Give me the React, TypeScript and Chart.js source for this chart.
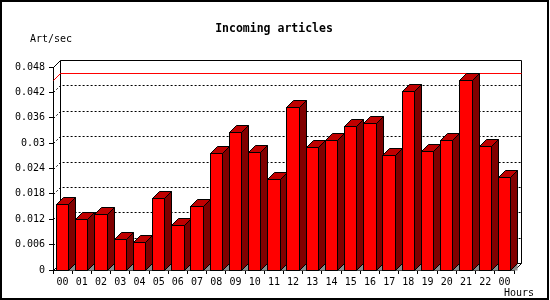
import React, { useEffect, useRef } from 'react';
import { Chart, registerables } from 'chart.js';

Chart.register(...registerables);

const title = 'Incoming articles';
const yUnit = 'Art/sec';
const xUnit = 'Hours';

const categories = [
  '00', '01', '02', '03', '04', '05', '06', '07', '08', '09', '10', '11',
  '12', '13', '14', '15', '16', '17', '18', '19', '20', '21', '22', '00',
];

const articlesPerSec = [
  0.0154, 0.0120, 0.0132, 0.0071, 0.0065, 0.0169, 0.0106, 0.0150,
  0.0276, 0.0325, 0.0278, 0.0214, 0.0385, 0.0289, 0.0307, 0.0340,
  0.0347, 0.0270, 0.0423, 0.0280, 0.0307, 0.0449, 0.0293, 0.0219,
];

const yMin = 0;
const yMax = 0.048;
const yStep = 0.006;

const DEPTH = 7;
const MONO = '"DejaVu Sans Mono", "Liberation Mono", monospace';

const threeDPlugin = {
  id: 'threeD',
  beforeDraw(chart: any) {
    const ctx = chart.ctx;
    ctx.save();
    ctx.fillStyle = '#ffffff';
    ctx.fillRect(0, 0, chart.width, chart.height);
    ctx.strokeStyle = '#000000';
    ctx.lineWidth = 2;
    ctx.strokeRect(1, 1, 547, 298);
    ctx.fillStyle = '#000000';
    ctx.font = `bold 11.5px ${MONO}`;
    ctx.textAlign = 'center';
    ctx.textBaseline = 'alphabetic';
    ctx.fillText(title, 274, 32);
    ctx.font = `10px ${MONO}`;
    ctx.textAlign = 'left';
    ctx.fillText(yUnit, 30, 42);
    ctx.fillText(xUnit, 504, 296);
    ctx.restore();
  },
  beforeDatasetsDraw(chart: any) {
    const ctx = chart.ctx;
    const { left, right, top, bottom } = chart.chartArea;
    const ys = chart.scales.y;
    const L = Math.round(left) + 0.5;
    const R = Math.round(right) + 0.5;
    const T = Math.round(top) + 0.5;
    const B = Math.round(bottom) + 0.5;
    ctx.save();
    ctx.lineWidth = 1;
    ctx.strokeStyle = '#000000';
    // dotted grid lines on the back wall and left wall
    ctx.setLineDash([2, 2]);
    for (const t of ys.ticks) {
      const v = t.value;
      if (v <= yMin + 1e-9 || v >= yMax - 1e-9) continue;
      const py = Math.round(ys.getPixelForValue(v)) + 0.5;
      ctx.beginPath();
      ctx.moveTo(L, py);
      ctx.lineTo(L + DEPTH, py - DEPTH);
      ctx.lineTo(R + DEPTH, py - DEPTH);
      ctx.stroke();
    }
    ctx.setLineDash([]);
    // back wall frame
    ctx.beginPath();
    ctx.moveTo(L, T);
    ctx.lineTo(L + DEPTH, T - DEPTH);
    ctx.lineTo(R + DEPTH, T - DEPTH);
    ctx.lineTo(R + DEPTH, B - DEPTH);
    ctx.lineTo(R, B);
    ctx.moveTo(L + DEPTH, T - DEPTH);
    ctx.lineTo(L + DEPTH, B - DEPTH);
    ctx.lineTo(R + DEPTH, B - DEPTH);
    ctx.moveTo(L, B);
    ctx.lineTo(L + DEPTH, B - DEPTH);
    ctx.stroke();
    // max line
    const maxV = Math.max(...articlesPerSec);
    const my = Math.round(ys.getPixelForValue(maxV)) + 0.5;
    ctx.strokeStyle = '#ff0000';
    ctx.beginPath();
    ctx.moveTo(L, my);
    ctx.lineTo(L + DEPTH, my - DEPTH);
    ctx.lineTo(R + DEPTH, my - DEPTH);
    ctx.stroke();
    ctx.restore();
  },
  afterDatasetsDraw(chart: any) {
    const ctx = chart.ctx;
    const meta = chart.getDatasetMeta(0);
    ctx.save();
    ctx.lineWidth = 1;
    ctx.strokeStyle = '#000000';
    for (const el of meta.data) {
      const p = el.getProps(['x', 'y', 'base', 'width'], true);
      const x0 = Math.floor(p.x - p.width / 2);
      const x1 = Math.ceil(p.x + p.width / 2) - 1;
      const yt = Math.floor(p.y);
      const yb = Math.round(p.base);
      const X0 = x0 + 0.5;
      const X1 = x1 + 0.5;
      const YT = yt + 0.5;
      const YB = yb + 0.5;
      // shadow
      ctx.fillStyle = '#8c8c8c';
      ctx.beginPath();
      ctx.moveTo(X1, YB);
      ctx.lineTo(X1 + DEPTH, YB - DEPTH);
      ctx.lineTo(X1 + DEPTH, YB);
      ctx.closePath();
      ctx.fill();
      // front
      ctx.fillStyle = '#ff0000';
      ctx.fillRect(x0, yt, x1 - x0 + 1, yb - yt + 1);
      ctx.strokeRect(X0, YT, x1 - x0, yb - yt);
      // top
      ctx.fillStyle = '#c00000';
      ctx.beginPath();
      ctx.moveTo(X0, YT);
      ctx.lineTo(X0 + DEPTH, YT - DEPTH);
      ctx.lineTo(X1 + DEPTH, YT - DEPTH);
      ctx.lineTo(X1, YT);
      ctx.closePath();
      ctx.fill();
      ctx.stroke();
      // side
      ctx.fillStyle = '#800000';
      ctx.beginPath();
      ctx.moveTo(X1, YT);
      ctx.lineTo(X1 + DEPTH, YT - DEPTH);
      ctx.lineTo(X1 + DEPTH, YB - DEPTH);
      ctx.lineTo(X1, YB);
      ctx.closePath();
      ctx.fill();
      ctx.stroke();
    }
    ctx.restore();
  },
};

export default function App() {
  const ref = useRef<HTMLCanvasElement | null>(null);

  useEffect(() => {
    if (!ref.current) return;
    const font = { family: MONO, size: 10 };
    const chart = new Chart(ref.current, {
      type: 'bar',
      data: {
        labels: categories,
        datasets: [
          {
            data: articlesPerSec,
            backgroundColor: '#ff0000',
            borderWidth: 0,
            categoryPercentage: 1,
            barPercentage: 0.64,
          },
        ],
      },
      options: {
        responsive: false,
        animation: false,
        events: [],
        layout: { padding: { left: 0, top: 67, right: 36, bottom: 0 } },
        plugins: {
          legend: { display: false },
          tooltip: { enabled: false },
          title: { display: false },
        },
        scales: {
          x: {
            offset: true,
            grid: {
              display: true,
              drawOnChartArea: false,
              drawTicks: true,
              tickLength: 4,
              color: '#000000',
              offset: true,
            },
            border: { display: true, color: '#000000' },
            ticks: {
              color: '#000000',
              font,
              maxRotation: 0,
              minRotation: 0,
              autoSkip: false,
              padding: 2,
            },
            afterFit: (s: any) => {
              s.height = 30;
            },
          },
          y: {
            min: yMin,
            max: yMax,
            grid: {
              display: true,
              drawOnChartArea: false,
              drawTicks: true,
              tickLength: 4,
              color: '#000000',
            },
            border: { display: true, color: '#000000' },
            ticks: {
              stepSize: yStep,
              color: '#000000',
              font,
              padding: 4,
              callback: (v: any) => String(+Number(v).toFixed(3)),
            },
            afterFit: (s: any) => {
              s.width = 53;
            },
          },
        },
      } as any,
      plugins: [threeDPlugin],
    });
    return () => chart.destroy();
  }, []);

  return (
    <div style={{ position: 'absolute', left: 0, top: 0, width: 550, height: 300 }}>
      <canvas ref={ref} width={550} height={300} style={{ display: 'block' }} />
    </div>
  );
}
